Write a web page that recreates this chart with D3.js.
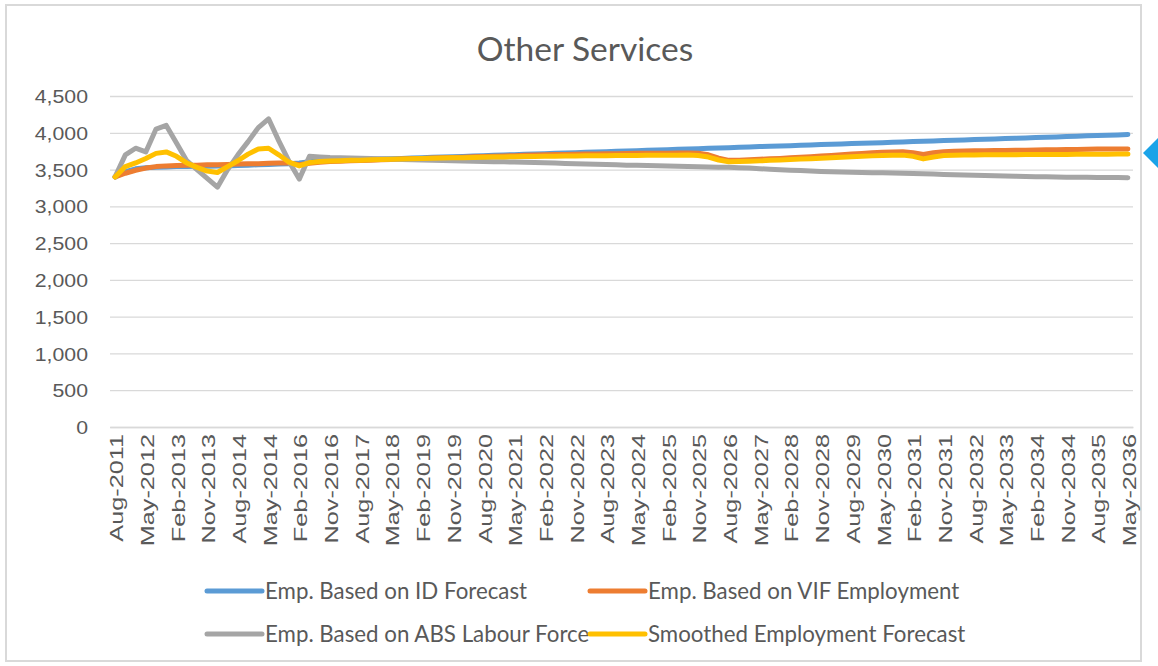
<!DOCTYPE html>
<html>
<head>
<meta charset="utf-8">
<script src="https://cdn.jsdelivr.net/npm/d3@7"></script>
<style>
  html, body { margin: 0; padding: 0; background: #ffffff; }
  svg { display: block; }
</style>
</head>
<body>
<svg id="chart" width="1158" height="666"></svg>
<script>
// Category axis labels (every third quarter is labelled)
const tickLabels = [
  "Aug-2011", "May-2012", "Feb-2013", "Nov-2013", "Aug-2014", "May-2014",
  "Feb-2016", "Nov-2016", "Aug-2017", "May-2018", "Feb-2019", "Nov-2019",
  "Aug-2020", "May-2021", "Feb-2022", "Nov-2022", "Aug-2023", "May-2024",
  "Feb-2025", "Nov-2025", "Aug-2026", "May-2027", "Feb-2028", "Nov-2028",
  "Aug-2029", "May-2030", "Feb-2031", "Nov-2031", "Aug-2032", "May-2033",
  "Feb-2034", "Nov-2034", "Aug-2035", "May-2036"
];

const yTicks = [0, 500, 1000, 1500, 2000, 2500, 3000, 3500, 4000, 4500];

// Quarterly employment, Aug-2011 .. May-2036 (100 quarters)
const idForecast = [
  3400, 3470, 3510, 3525, 3530, 3535, 3540, 3540, 3545, 3545,
  3550, 3550, 3555, 3560, 3565, 3570, 3575, 3580, 3590, 3605,
  3615, 3620, 3625, 3629, 3634, 3638, 3643, 3647, 3652, 3656,
  3661, 3666, 3670, 3675, 3679, 3684, 3688, 3693, 3698, 3702,
  3707, 3711, 3716, 3720, 3725, 3729, 3734, 3739, 3743, 3748,
  3752, 3757, 3761, 3766, 3770, 3775, 3780, 3784, 3789, 3793,
  3798, 3802, 3807, 3812, 3816, 3821, 3825, 3830, 3834, 3839,
  3843, 3848, 3853, 3857, 3862, 3866, 3871, 3875, 3880, 3885,
  3889, 3894, 3898, 3903, 3907, 3912, 3916, 3921, 3926, 3930,
  3935, 3939, 3944, 3948, 3953, 3958, 3962, 3967, 3971, 3976
];

const vifEmployment = [
  3400, 3450, 3490, 3520, 3540, 3550, 3555, 3560, 3560, 3565,
  3565, 3570, 3575, 3578, 3580, 3585, 3590, 3590, 3565, 3585,
  3600, 3608, 3613, 3618, 3623, 3628, 3632, 3637, 3642, 3647,
  3652, 3656, 3661, 3665, 3669, 3673, 3677, 3681, 3685, 3689,
  3693, 3697, 3700, 3703, 3706, 3708, 3710, 3712, 3714, 3716,
  3718, 3720, 3721, 3722, 3723, 3724, 3725, 3722, 3700, 3655,
  3625, 3628, 3633, 3640, 3646, 3652, 3659, 3666, 3674, 3683,
  3692, 3701, 3710, 3719, 3728, 3735, 3740, 3743, 3730, 3705,
  3728, 3742, 3748, 3751, 3754, 3756, 3758, 3760, 3762, 3764,
  3766, 3768, 3770, 3772, 3774, 3776, 3778, 3779, 3780, 3781
];

const absLabourForce = [
  3400, 3700, 3790, 3740, 4050, 4100, 3860, 3620, 3500, 3380,
  3260, 3500, 3700, 3880, 4070, 4190, 3890, 3610, 3370, 3680,
  3672, 3665, 3662, 3658, 3654, 3650, 3646, 3642, 3638, 3634,
  3630, 3627, 3623, 3620, 3616, 3612, 3610, 3607, 3605, 3602,
  3600, 3596, 3592, 3588, 3584, 3580, 3576, 3572, 3568, 3564,
  3560, 3557, 3554, 3551, 3548, 3545, 3542, 3539, 3536, 3533,
  3530, 3526, 3520, 3512, 3505, 3498, 3492, 3486, 3480, 3474,
  3470, 3467, 3464, 3461, 3458, 3455, 3452, 3449, 3446, 3442,
  3438, 3434, 3430, 3426, 3422, 3418, 3415, 3412, 3409, 3406,
  3403, 3401, 3399, 3397, 3395, 3394, 3393, 3392, 3391, 3390
];

const smoothedForecast = [
  3400, 3540, 3590, 3650, 3720, 3740, 3680, 3590, 3530, 3480,
  3460, 3540, 3620, 3710, 3780, 3790, 3700, 3600, 3550, 3595,
  3608, 3615, 3620, 3625, 3628, 3632, 3636, 3640, 3643, 3646,
  3650, 3653, 3656, 3660, 3662, 3665, 3668, 3670, 3672, 3675,
  3676, 3678, 3680, 3681, 3683, 3684, 3686, 3687, 3688, 3690,
  3690, 3692, 3693, 3694, 3695, 3696, 3697, 3690, 3670, 3630,
  3605, 3608, 3612, 3618, 3625, 3630, 3636, 3642, 3648, 3655,
  3661, 3667, 3673, 3680, 3686, 3690, 3694, 3696, 3680, 3645,
  3670, 3690, 3695, 3697, 3698, 3700, 3700, 3701, 3702, 3703,
  3704, 3705, 3705, 3706, 3707, 3708, 3708, 3709, 3710, 3710
];

const seriesNames = [
  "Emp. Based on ID Forecast",
  "Emp. Based on VIF Employment",
  "Emp. Based on ABS Labour Force",
  "Smoothed Employment Forecast"
];

// ---- drawing ----
const series = [
  { name: seriesNames[0], values: idForecast,       color: "#5B9BD5" },
  { name: seriesNames[1], values: vifEmployment,    color: "#ED7D31" },
  { name: seriesNames[2], values: absLabourForce,   color: "#A5A5A5" },
  { name: seriesNames[3], values: smoothedForecast, color: "#FFC000" }
];

const svg = d3.select("#chart");
const plot = { left: 110, right: 1133, top: 96, bottom: 427 };
const textColor = "#595959";
const gridColor = "#D9D9D9";
const labelFont = "'Liberation Sans', Arial, sans-serif";
const titleFont = "Lato, 'Open Sans', sans-serif";

// chart frame
svg.append("rect")
  .attr("x", 6).attr("y", 5).attr("width", 1135).attr("height", 656)
  .attr("fill", "#ffffff").attr("stroke", "#D9D9D9").attr("stroke-width", 2);

const nCat = idForecast.length;
const x = d3.scalePoint()
  .domain(d3.range(nCat))
  .range([plot.left, plot.right])
  .padding(0.5);

const y = d3.scaleLinear()
  .domain([0, 4500])
  .range([plot.bottom, plot.top]);

// title
svg.append("text")
  .attr("x", 585).attr("y", 61)
  .attr("text-anchor", "middle")
  .attr("font-family", titleFont)
  .attr("font-size", 33.5)
  .attr("fill", textColor)
  .text("Other Services");

// value axis with gridlines
const yAxis = svg.append("g")
  .attr("transform", `translate(${plot.left},0)`)
  .call(d3.axisLeft(y)
    .tickValues(yTicks)
    .tickFormat(d3.format(","))
    .tickSize(-(plot.right - plot.left))
    .tickPadding(0));
yAxis.select(".domain").remove();
yAxis.selectAll(".tick line").attr("stroke", gridColor).attr("stroke-width", 1.3);
yAxis.selectAll(".tick text")
  .attr("x", 0)
  .attr("dy", "0.35em")
  .attr("transform", "translate(-22,0) scale(1.12,1)")
  .attr("font-family", labelFont)
  .attr("font-size", 19)
  .attr("fill", textColor);

// category axis
const labelIdx = d3.range(0, nCat, 3);
const xAxis = svg.append("g")
  .attr("transform", `translate(0,${plot.bottom})`)
  .call(d3.axisBottom(x)
    .tickValues(labelIdx)
    .tickFormat(i => tickLabels[i / 3])
    .tickSize(0)
    .tickPadding(0));
xAxis.select(".domain").attr("stroke", gridColor).attr("stroke-width", 1.3);
xAxis.selectAll(".tick text")
  .attr("x", 0).attr("y", 0).attr("dy", "0.35em")
  .attr("text-anchor", "end")
  .attr("transform", "translate(1,7) rotate(-90) scale(1.33,1)")
  .attr("font-family", labelFont)
  .attr("font-size", 19)
  .attr("fill", textColor);

// series lines
const line = d3.line()
  .x((d, i) => x(i))
  .y(d => y(d));

svg.append("g").selectAll("path")
  .data(series)
  .join("path")
  .attr("d", s => line(s.values))
  .attr("fill", "none")
  .attr("stroke", s => s.color)
  .attr("stroke-width", 5)
  .attr("stroke-linejoin", "round")
  .attr("stroke-linecap", "round");

// legend (two rows, two columns)
const legendPos = [
  { lx: 207, ly: 591 }, { lx: 590, ly: 591 },
  { lx: 207, ly: 634 }, { lx: 590, ly: 634 }
];
const legend = svg.append("g").selectAll("g")
  .data(series)
  .join("g")
  .attr("transform", (s, i) => `translate(${legendPos[i].lx},${legendPos[i].ly})`);
legend.append("line")
  .attr("x1", 0).attr("x2", 55).attr("y1", 0).attr("y2", 0)
  .attr("stroke", s => s.color).attr("stroke-width", 5)
  .attr("stroke-linecap", "round");
legend.append("text")
  .attr("x", 58).attr("y", 0).attr("dy", "0.35em")
  .attr("font-family", titleFont)
  .attr("font-size", 22.3)
  .attr("fill", textColor)
  .text(s => s.name);

// side marker
svg.append("path")
  .attr("d", "M1143,153 L1158,138 L1158,168 Z")
  .attr("fill", "#1AA3E8");
</script>
</body>
</html>
